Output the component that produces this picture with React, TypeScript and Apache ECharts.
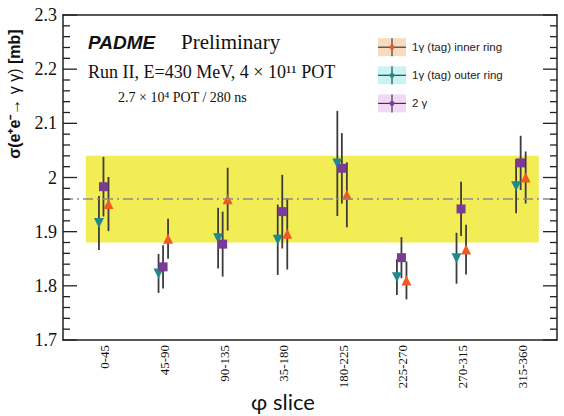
import React, { useEffect, useRef } from "react";
import * as echarts from "echarts";

const categories = ["0-45", "45-90", "90-135", "35-180", "180-225", "225-270", "270-315", "315-360"];
const categoryIndex = [0, 1, 2, 3, 4, 5, 6, 7];

const innerVals = [1.951, 1.887, 1.96, 1.896, 1.968, 1.81, 1.867, 2.0];
const innerErr = [0.05, 0.037, 0.058, 0.066, 0.06, 0.035, 0.046, 0.048];
const outerVals = [1.916, 1.823, 1.888, 1.885, 2.026, 1.816, 1.851, 1.984];
const outerErr = [0.05, 0.036, 0.056, 0.065, 0.097, 0.033, 0.047, 0.05];
const twoGammaVals = [1.983, 1.835, 1.877, 1.937, 2.017, 1.852, 1.942, 2.027];
const twoGammaErr = [0.055, 0.04, 0.06, 0.068, 0.065, 0.038, 0.05, 0.05];

const combinedMean = 1.96;
const bandLow = 1.88;
const bandHigh = 2.04;

const yMajorTicks = [1.7, 1.8, 1.9, 2.0, 2.1, 2.2, 2.3];
const yMinorStep = 0.02;

const legendLabels = ["1γ (tag) inner ring", "1γ (tag) outer ring", "2 γ"];

const X_MIN = -0.703;
const X_MAX = 7.586;
const Y_MIN = 1.7;
const Y_MAX = 2.3;
const BAND_X0 = -0.32;
const BAND_X1 = 7.28;

const GRID = { left: 63, right: 7, top: 15, bottom: 76 };
const W = 564;
const H = 416;

const groups = [
  { name: legendLabels[0], vals: innerVals, errs: innerErr, color: "#f05a22", symbol: "triangle", rotate: 0, size: 10, offset: 0.06, fill: "#f9dcc0" },
  { name: legendLabels[1], vals: outerVals, errs: outerErr, color: "#1e8a8c", symbol: "triangle", rotate: 180, size: 10, offset: -0.1, fill: "#c9f4f6" },
  { name: legendLabels[2], vals: twoGammaVals, errs: twoGammaErr, color: "#7a3b96", symbol: "rect", rotate: 0, size: 9, offset: -0.024, fill: "#f1d9f5" },
];

const AXIS_COLOR = "#222";

export default function App() {
  const ref = useRef<HTMLDivElement>(null);
  useEffect(() => {
    document.body.style.margin = "0";
    if (!ref.current) return;
    const chart = echarts.init(ref.current, undefined, { renderer: "svg" });

    const tickData: number[][] = [];
    for (let k = 0; k < yMajorTicks.length; k++) {
      tickData.push([yMajorTicks[k], 1]);
      if (k < yMajorTicks.length - 1) {
        for (let m = 1; m < 5; m++) tickData.push([yMajorTicks[k] + m * yMinorStep, 0]);
      }
    }

    const series: any[] = [];
    series.push({
      type: "scatter",
      data: [],
      z: 1,
      silent: true,
      markArea: {
        silent: true,
        itemStyle: { color: "#f2ec55" },
        data: [[{ xAxis: BAND_X0, yAxis: bandLow }, { xAxis: BAND_X1, yAxis: bandHigh }]],
      },
      markLine: {
        silent: true,
        symbol: "none",
        label: { show: false },
        lineStyle: { color: "#8c8c8c", type: [10, 4, 2, 4], width: 1.5 },
        data: [{ yAxis: combinedMean }],
      },
    });
    groups.forEach((g) => {
      series.push({
        type: "custom",
        z: 2,
        silent: true,
        encode: { x: 0, y: 1 },
        data: categoryIndex.map((i) => [i + g.offset, g.vals[i], g.errs[i]]),
        renderItem: (params: any, api: any) => {
          const x = api.value(0);
          const y = api.value(1);
          const e = api.value(2);
          const p1 = api.coord([x, y + e]);
          const p2 = api.coord([x, y - e]);
          return {
            type: "line",
            shape: { x1: p1[0], y1: p1[1], x2: p2[0], y2: p2[1] },
            style: { stroke: "#3c3c3c", lineWidth: 1.8 },
          };
        },
      });
    });
    groups.forEach((g) => {
      series.push({
        type: "scatter",
        name: g.name,
        z: 3,
        symbol: g.symbol,
        symbolSize: g.size,
        symbolRotate: g.rotate,
        itemStyle: { color: g.color, opacity: 1 },
        data: categoryIndex.map((i) => [i + g.offset, g.vals[i]]),
      });
    });

    const legendGraphics: any[] = [];
    groups.forEach((g, k) => {
      const cy = 47.2 + k * 28.1;
      legendGraphics.push(
        { type: "rect", shape: { x: 378, y: cy - 9, width: 28, height: 18 }, style: { fill: g.fill } },
        { type: "line", shape: { x1: 378, y1: cy, x2: 406, y2: cy }, style: { stroke: "#3c3c3c", lineWidth: 1.2 } },
        { type: "line", shape: { x1: 392, y1: cy - 9, x2: 392, y2: cy + 9 }, style: { stroke: "#3c3c3c", lineWidth: 1.2 } },
        { type: "circle", shape: { cx: 392, cy, r: 2.4 }, style: { fill: g.color } },
        {
          type: "text",
          x: 412,
          y: cy,
          style: { text: g.name, fontFamily: "Liberation Sans", fontSize: 11.5, fill: "#222", verticalAlign: "middle" },
        }
      );
    });

    const yAxisBase = {
      type: "value",
      min: Y_MIN,
      max: Y_MAX,
      interval: 0.1,
      splitLine: { show: false },
      axisLine: { show: true, onZero: false, lineStyle: { color: AXIS_COLOR, width: 1.5 } },
      axisTick: { show: false },
    };

    const textGraphics: any[] = [
      {
        type: "text",
        x: 88,
        y: 42,
        style: { text: "PADME", fontFamily: "Liberation Sans", fontWeight: "bold", fontStyle: "italic", fontSize: 19, fill: "#111", verticalAlign: "middle" },
      },
      {
        type: "text",
        x: 181,
        y: 42,
        style: { text: "Preliminary", fontFamily: "Liberation Serif", fontSize: 21, fill: "#111", verticalAlign: "middle" },
      },
      {
        type: "text",
        x: 88,
        y: 72,
        style: { text: "Run II, E=430 MeV, 4 × 10¹¹ POT", fontFamily: "Liberation Serif", fontSize: 18, fill: "#111", verticalAlign: "middle" },
      },
      {
        type: "text",
        x: 118,
        y: 97,
        style: { text: "2.7 × 10⁴ POT / 280 ns", fontFamily: "Liberation Serif", fontSize: 14, fill: "#111", verticalAlign: "middle" },
      },
      {
        type: "text",
        x: 14,
        y: 94,
        rotation: Math.PI / 2,
        style: {
          text: "{b|σ(e⁺e⁻}{n|→ γ γ)} {b|[mb]}",
          fontFamily: "Liberation Sans",
          fontSize: 16,
          fill: "#111",
          align: "center",
          verticalAlign: "middle",
          rich: {
            b: { fontFamily: "Liberation Sans", fontSize: 16, fontWeight: "bold", fill: "#111" },
            n: { fontFamily: "Liberation Sans", fontSize: 16, fill: "#111" },
          },
        },
      },
      {
        type: "text",
        x: 283,
        y: 401,
        style: { text: "φ slice", fontFamily: "Lato", fontSize: 22, fill: "#111", align: "center", verticalAlign: "middle" },
      },
      ...legendGraphics,
    ];

    chart.setOption({
      animation: false,
      grid: { ...GRID },
      xAxis: [
        {
          type: "value",
          min: X_MIN,
          max: X_MAX,
          splitLine: { show: false },
          axisTick: { show: false },
          axisLine: { show: true, onZero: false, lineStyle: { color: AXIS_COLOR, width: 1.5 } },
          axisLabel: {
            customValues: categoryIndex,
            formatter: (v: number) => categories[Math.round(v)] ?? "",
            rotate: 90,
            fontFamily: "Liberation Serif",
            fontSize: 13,
            color: "#111",
            margin: 5,
          },
        },
        {
          type: "value",
          position: "top",
          min: X_MIN,
          max: X_MAX,
          splitLine: { show: false },
          axisTick: { show: false },
          axisLabel: { show: false },
          axisLine: { show: true, onZero: false, lineStyle: { color: AXIS_COLOR, width: 1.5 } },
        },
      ],
      yAxis: [
        {
          ...yAxisBase,
          position: "left",
          axisLabel: {
            formatter: (v: number) => (Math.abs(v - 2) < 1e-9 ? "2" : v.toFixed(1)),
            fontFamily: "Liberation Serif",
            fontSize: 18,
            color: "#111",
            margin: 6,
          },
        },
        { ...yAxisBase, position: "right", axisLabel: { show: false } },
      ],
      series,
      graphic: textGraphics,
    });

    // y-axis ticks (inside, both sides), placed through the chart's own grid conversion
    const plotLeft = GRID.left;
    const plotRight = W - GRID.right;
    const plotTop = GRID.top;
    const plotBottom = H - GRID.bottom;
    const toPix = (v: number): number[] => {
      let l: any = null;
      let r: any = null;
      try {
        l = chart.convertToPixel({ gridIndex: 0 }, [X_MIN, v]);
        r = chart.convertToPixel({ gridIndex: 0 }, [X_MAX, v]);
      } catch (e) {
        l = null;
      }
      if (Array.isArray(l) && Array.isArray(r) && isFinite(l[0]) && isFinite(l[1]) && isFinite(r[0])) {
        return [l[0], r[0], l[1]];
      }
      const y = plotBottom - ((v - Y_MIN) / (Y_MAX - Y_MIN)) * (plotBottom - plotTop);
      return [plotLeft, plotRight, y];
    };
    const tickGraphics: any[] = [];
    tickData.forEach(([v, major]) => {
      const [xl, xr, y] = toPix(v);
      const len = major ? 14 : 7;
      tickGraphics.push(
        { type: "line", z: 100, shape: { x1: xl, y1: y, x2: xl + len, y2: y }, style: { stroke: AXIS_COLOR, lineWidth: 1.3 } },
        { type: "line", z: 100, shape: { x1: xr, y1: y, x2: xr - len, y2: y }, style: { stroke: AXIS_COLOR, lineWidth: 1.3 } }
      );
    });
    chart.setOption({ graphic: [...textGraphics, ...tickGraphics] }, { replaceMerge: ["graphic"] });

    return () => chart.dispose();
  }, []);
  return <div ref={ref} style={{ width: W, height: H }} />;
}
